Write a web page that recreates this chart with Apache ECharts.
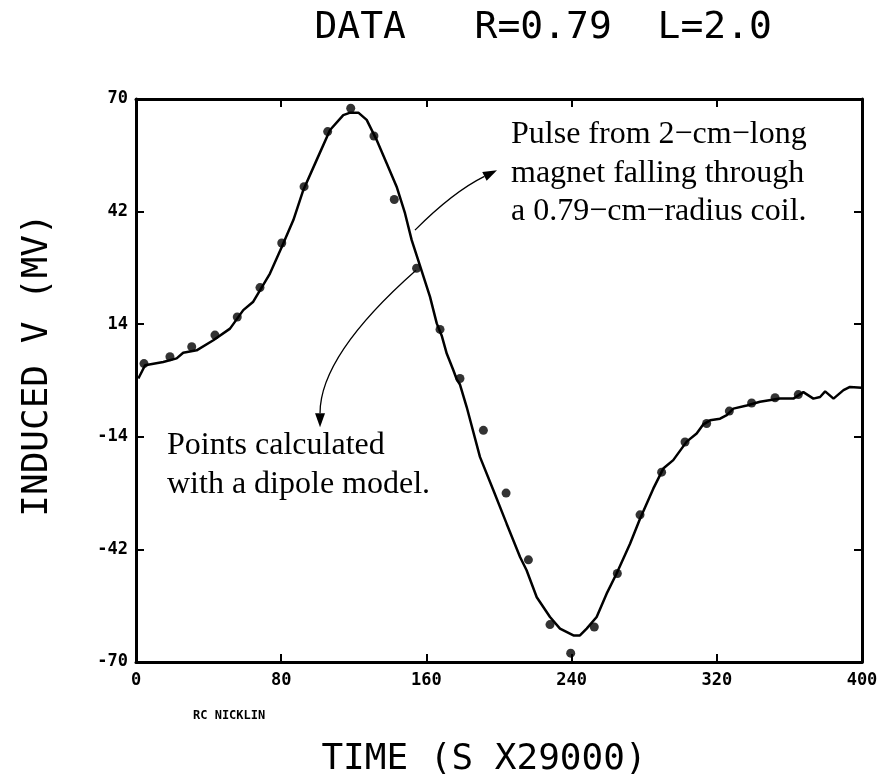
<!DOCTYPE html>
<html><head><meta charset="utf-8">
<script src="https://cdn.jsdelivr.net/npm/echarts@6/dist/echarts.min.js"></script>
<style>html,body{margin:0;padding:0;background:#fff}#c{width:892px;height:779px}</style>
</head><body><div id="c"></div>
<script>
// measured trace (time units, mV)
const curveT = [1.3, 5, 15, 22.4, 26, 33.4, 42.6, 51.8, 59.1, 64.6, 73.8, 80.3, 86.7, 92.2, 99.5, 106.9, 114.2, 118, 122.5, 127.1, 132.6, 138.1, 143.6, 148.2, 151.9, 156.5, 162, 165.7, 168.4, 171.2, 174.8, 176.7, 178.5, 182.2, 189.5, 196.9, 204.2, 211.6, 215.2, 220.8, 228.1, 233.6, 241, 244.6, 248.3, 253.8, 259.3, 264.8, 272.2, 277.7, 285, 290.5, 296, 303.4, 308.9, 312.6, 316.3, 321.8, 325.5, 329.1, 336.5, 343.8, 354.8, 362.2, 367.7, 373.2, 376.9, 379.7, 384.3, 389.8, 393.4, 399.8];
const curveV = [0.5, 3.8, 4.6, 5.5, 6.9, 7.5, 10, 12.9, 17.5, 19.6, 26.6, 33.2, 39.9, 47.4, 54.8, 62.3, 66.0, 66.6, 66.6, 64.8, 59.8, 54.0, 48.2, 41.6, 34.9, 28.5, 20.8, 14.2, 11.2, 6.7, 2.6, 0.3, -1.0, -6.6, -19.0, -27.3, -35.6, -43.9, -47.2, -53.9, -58.8, -61.7, -63.4, -63.4, -61.7, -58.8, -53.0, -48.0, -40.6, -34.4, -26.9, -21.9, -19.8, -15.2, -13.2, -10.9, -9.9, -9.5, -8.6, -7.0, -6.2, -5.3, -4.5, -4.5, -2.9, -4.5, -4.1, -2.7, -4.5, -2.4, -1.6, -1.8];
// dipole model points
const dotT = [4.4, 18.7, 30.7, 43.5, 55.8, 68.3, 80.3, 92.6, 105.6, 118.3, 131.1, 142.3, 154.6, 167.5, 178.5, 191.4, 203.9, 216.2, 228.1, 239.5, 252.5, 265.2, 277.7, 289.6, 302.5, 314.4, 326.9, 339.2, 352.1, 364.9];
const dotV = [4.2, 5.9, 8.4, 11.3, 15.8, 23.1, 34.2, 48.2, 61.9, 67.7, 60.8, 45.0, 27.9, 12.7, 0.5, -12.4, -28.0, -44.6, -60.7, -67.8, -61.3, -48.0, -33.4, -22.8, -15.3, -10.7, -7.6, -5.6, -4.3, -3.5];
const xTicks = [0, 80, 160, 240, 320, 400];
const yTicks = [-70, -42, -14, 14, 42, 70];
const titleText = 'DATA   R=0.79  L=2.0';
const xName = 'TIME (S X29000)';
const yName = 'INDUCED V (MV)';
const credit = 'RC NICKLIN';
const noteUpper = ['Pulse from 2\u2212cm\u2212long', 'magnet falling through', 'a 0.79\u2212cm\u2212radius coil.'];
const noteLower = ['Points calculated', 'with a dipole model.'];
// arrow anchors in data coordinates: start, control, tip
const arrowUpper = [[153.7, 37.4], [174.7, 46.9], [198.9, 52.3]];
const arrowLower = [[154.3, 27.4], [101.4, 6.3], [101.4, -11.6]];

const chart = echarts.init(document.getElementById('c'), null, {renderer: 'canvas'});
const axisLine = {show: true, onZero: false, lineStyle: {color: '#000', width: 3}};
const tick = {show: true, inside: true, length: 8, lineStyle: {color: '#000', width: 2}};
const lbl = {fontFamily: 'DejaVu Sans Mono', fontWeight: 'bold', fontSize: 17, color: '#000'};
const xMin = xTicks[0], xMax = xTicks[xTicks.length - 1], xInt = xTicks[1] - xTicks[0];
const yMin = yTicks[0], yMax = yTicks[yTicks.length - 1], yInt = yTicks[1] - yTicks[0];

chart.setOption({
  animation: false,
  backgroundColor: '#fff',
  grid: {left: 136, right: 30, top: 99, bottom: 117, containLabel: false},
  xAxis: [
    {type: 'value', min: xMin, max: xMax, interval: xInt, position: 'bottom', axisLine, axisTick: tick,
     axisLabel: Object.assign({margin: 10}, lbl), splitLine: {show: false}},
    {type: 'value', min: xMin, max: xMax, interval: xInt, position: 'top', axisLine, axisTick: tick,
     axisLabel: {show: false}, splitLine: {show: false}}
  ],
  yAxis: [
    {type: 'value', min: yMin, max: yMax, interval: yInt, position: 'left', axisLine, axisTick: tick,
     axisLabel: Object.assign({margin: 8}, lbl), splitLine: {show: false}},
    {type: 'value', min: yMin, max: yMax, interval: yInt, position: 'right', axisLine, axisTick: tick,
     axisLabel: {show: false}, splitLine: {show: false}}
  ],
  series: [
    {type: 'line', data: curveT.map((t, i) => [t, curveV[i]]), showSymbol: false, symbol: 'none',
     lineStyle: {color: '#000', width: 2.5}, z: 2},
    {type: 'scatter', data: dotT.map((t, i) => [t, dotV[i]]), symbol: 'circle', symbolSize: 9,
     itemStyle: {color: '#000'}, z: 3}
  ]
});

function px(p) { return chart.convertToPixel({gridIndex: 0}, p); }
function arrow(a) {
  const s = px(a[0]), c = px(a[1]), e = px(a[2]);
  const ang = Math.atan2(e[1] - c[1], e[0] - c[0]);
  const L = 14, W = 5;
  const bx = e[0] - L * Math.cos(ang), by = e[1] - L * Math.sin(ang);
  const nx = -Math.sin(ang), ny = Math.cos(ang);
  return [
    {type: 'bezierCurve', shape: {x1: s[0], y1: s[1], cpx1: c[0], cpy1: c[1], x2: bx, y2: by},
     style: {stroke: '#000', lineWidth: 1.3, fill: null}, z: 10},
    {type: 'polygon', shape: {points: [[e[0], e[1]], [bx + nx * W, by + ny * W], [bx - nx * W, by - ny * W]]},
     style: {fill: '#000'}, z: 10}
  ];
}
const serif = '32px "Liberation Serif", "Times New Roman", serif';
const mono = 'DejaVu Sans Mono';
const g = [];
g.push(...arrow(arrowUpper), ...arrow(arrowLower));
noteUpper.forEach((t, i) => g.push({type: 'text', x: 511, y: 151 + i * 38.5,
  style: {text: t, font: serif, fill: '#000', textAlign: 'left', textVerticalAlign: 'bottom'}, z: 11}));
noteLower.forEach((t, i) => g.push({type: 'text', x: 167, y: 462 + i * 38.5,
  style: {text: t, font: serif, fill: '#000', textAlign: 'left', textVerticalAlign: 'bottom'}, z: 11}));
g.push({type: 'text', x: 772, y: 28, style: {text: titleText, font: '38px ' + mono, fill: '#000',
  textAlign: 'right', textVerticalAlign: 'middle'}});
g.push({type: 'text', x: 484, y: 760, style: {text: xName, font: '36px ' + mono, fill: '#000',
  textAlign: 'center', textVerticalAlign: 'middle'}});
g.push({type: 'text', x: 38, y: 365, rotation: Math.PI / 2, style: {text: yName, font: '36px ' + mono,
  fill: '#000', textAlign: 'center', textVerticalAlign: 'middle'}});
g.push({type: 'text', x: 193, y: 716, style: {text: credit, font: 'bold 12px ' + mono, fill: '#000',
  textAlign: 'left', textVerticalAlign: 'middle'}});
chart.setOption({graphic: g});
</script></body></html>
